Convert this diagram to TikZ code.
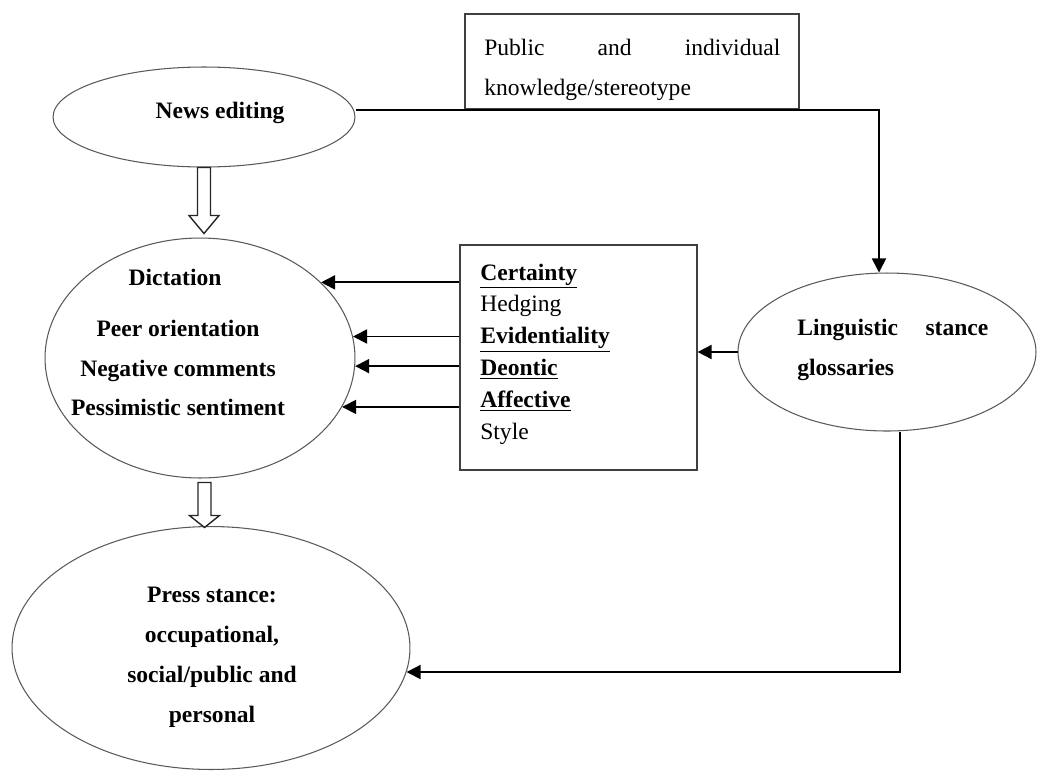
\documentclass[tikz,border=0pt]{standalone}
\usepackage{fontspec}
\setmainfont{Liberation Serif}
\usepackage{tikz}
\usetikzlibrary{shapes.geometric, arrows.meta, positioning}

\begin{document}
\begin{tikzpicture}[x=0.02cm, y=-0.02cm, >={Triangle[length=8pt,width=8pt]},
  oval/.style={draw=black!65, line width=0.6pt, ellipse, inner sep=0pt},
  box/.style={draw=black!75, line width=0.7pt, rectangle, inner sep=0pt},
  txt/.style={font=\fontsize{13.4}{22.7}\selectfont, inner sep=0pt},
  btxt/.style={inner sep=0pt, font=\fontsize{13.4}{22.7}\selectfont\bfseries},
  conn/.style={line width=1pt},
  hollow/.style={draw=black!85, line width=0.8pt, fill=white}]
\useasboundingbox (0,0) rectangle (1037,775);

% ellipses
\node[oval, minimum width=6.04cm, minimum height=2cm] (news) at (204,117) {};
\node[oval, minimum width=6.2cm, minimum height=4.8cm] (dict) at (200,358) {};
\node[oval, minimum width=7.96cm, minimum height=4.86cm] (press) at (211,648) {};
\node[oval, minimum width=5.96cm, minimum height=3.16cm] (ling) at (887,352) {};

% boxes
\node[box, minimum width=6.68cm, minimum height=1.9cm] (know) at (632,61.5) {};
\node[box, minimum width=4.74cm, minimum height=4.5cm] (mark) at (578.5,357.5) {};

% texts
\node[btxt] (newsT) at (220,113) {News editing};
\node[btxt] (dictT) at (175,277) {Dictation};
\node[btxt, align=center] (dictL) at (178,368) {Peer orientation\\Negative comments\\Pessimistic sentiment};
\node[btxt, align=center] (pressT) at (212,657) {Press stance:\\occupational,\\social/public and\\personal};
\node[btxt, anchor=west, text width=3.82cm, align=left] (lingT) at (797,350) {Linguistic\hfill stance\\glossaries};
\node[txt, anchor=west, text width=5.92cm, align=left] (knowT) at (484,70) {Public\hfill and\hfill individual\\knowledge/stereotype};
\node[txt, anchor=west, align=left, font=\fontsize{13.4}{18.1}\selectfont] (markT) at (480,354)
  {\underline{\textbf{Certainty}}\\Hedging\\\underline{\textbf{Evidentiality}}\\\underline{\textbf{Deontic}}\\\underline{\textbf{Affective}}\\Style};

% hollow arrows
\draw[hollow] (news.south) ++(-6.5,0) -- ++(0,48) -- ++(-8.5,0) -- ++(15,18) -- ++(15,-18) -- ++(-8.5,0) -- ++(0,-48) -- cycle;
\draw[hollow] (dict.south) ++(-2,4) -- ++(0,33) -- ++(-8.5,0) -- ++(15,12) -- ++(15,-12) -- ++(-8.5,0) -- ++(0,-33) -- cycle;

% connectors
\coordinate (turn) at (879,110);
\coordinate (drop) at (900,0);
\draw[conn,->] (news.east |- turn) -- (turn) -- (turn |- ling.north);
\draw[conn,->] (ling.west) -- (ling.west -| mark.east);
\draw[conn,->] (drop |- ling.south) |- (press.-7.3);
\foreach \a in {32.9,8.2,-3.7,-19.1}
  \draw[conn,->] (mark.west |- dict.\a) -- (dict.\a);

\end{tikzpicture}
\end{document}
